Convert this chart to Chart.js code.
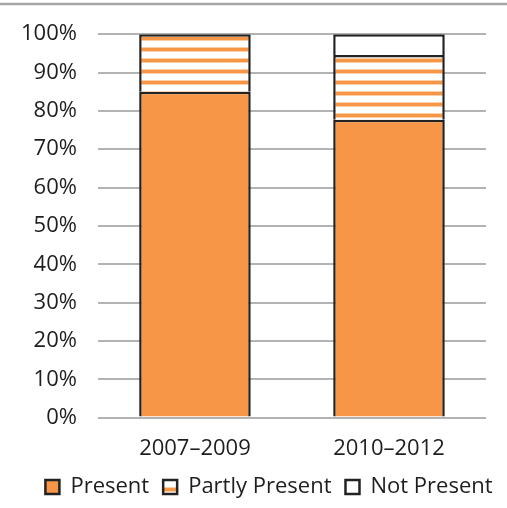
<!DOCTYPE html>
<html><head><meta charset="utf-8">
<script src="https://cdn.jsdelivr.net/npm/chart.js@4/dist/chart.umd.min.js"></script>
<style>html,body{margin:0;padding:0;background:#fff;}#wrap{width:507px;height:508px;}</style>
</head><body><div id="wrap"><canvas id="c" width="507" height="508"></canvas></div>
<script>
const categories = ['2007\u20132009', '2010\u20132012'];
const present = [85, 77.7];
const partlyPresent = [15, 16.9];
const notPresent = [null, 5.4];
const yTicks = [0,10,20,30,40,50,60,70,80,90,100];

function stripePattern(){
  const p = document.createElement('canvas');
  p.width = 8; p.height = 11;
  const g = p.getContext('2d');
  g.fillStyle = '#ffffff'; g.fillRect(0,0,8,11);
  g.fillStyle = '#fbcfa8'; g.fillRect(0,3,8,1); g.fillRect(0,7,8,1);
  g.fillStyle = '#f79646'; g.fillRect(0,4,8,3);
  return g.createPattern(p, 'repeat');
}
const stripes = stripePattern();
const FONT = "'Open Sans', sans-serif";

const topLine = {
  id:'topLine',
  afterLayout(chart){
    const lg = chart.legend;
    if (lg) { lg.left += 26; lg.right += 26; lg.top -= 10; lg.bottom -= 10; }
  },
  beforeDraw(chart){
    const ctx = chart.ctx;
    ctx.save();
    ctx.fillStyle='#fff'; ctx.fillRect(0,0,chart.width,chart.height);
    ctx.strokeStyle='#a6a6a6'; ctx.lineWidth=2.5;
    ctx.beginPath(); ctx.moveTo(0,4); ctx.lineTo(chart.width,4); ctx.stroke();
    ctx.restore();
  }
};

new Chart(document.getElementById('c'), {
  type:'bar',
  data:{
    labels:categories,
    datasets:[
      {label:'Present', data:present, backgroundColor:'#f79646', borderColor:'#222222', borderWidth:2.5},
      {label:'Partly Present', data:partlyPresent, backgroundColor:stripes, borderColor:'#222222', borderWidth:2.5},
      {label:'Not Present', data:notPresent, backgroundColor:'#ffffff', borderColor:'#222222', borderWidth:2.5}
    ]
  },
  options:{
    responsive:false, animation:false,
    devicePixelRatio:1,
    layout:{padding:{top:14,right:21,left:0,bottom:-10}},
    datasets:{bar:{categoryPercentage:1, barPercentage:0.575}},
    plugins:{
      legend:{position:'bottom', labels:{boxWidth:14, boxHeight:14, padding:14, color:'#1e1e1e', font:{family:FONT, size:22}}},
      tooltip:{enabled:false}
    },
    scales:{
      x:{stacked:true, grid:{display:false}, border:{display:false},
         ticks:{color:'#1e1e1e', padding:10, font:{family:FONT, size:22}}},
      y:{stacked:true, min:0, max:100,
         afterBuildTicks(axis){ axis.ticks = yTicks.map(v=>({value:v})); },
         grid:{color:'#b3b3b3', lineWidth:2, drawTicks:false}, border:{display:false},
         ticks:{color:'#1e1e1e', padding:21, font:{family:FONT, size:22}, callback:v=>v+'%'}}
    }
  },
  plugins:[topLine]
});
</script></body></html>
